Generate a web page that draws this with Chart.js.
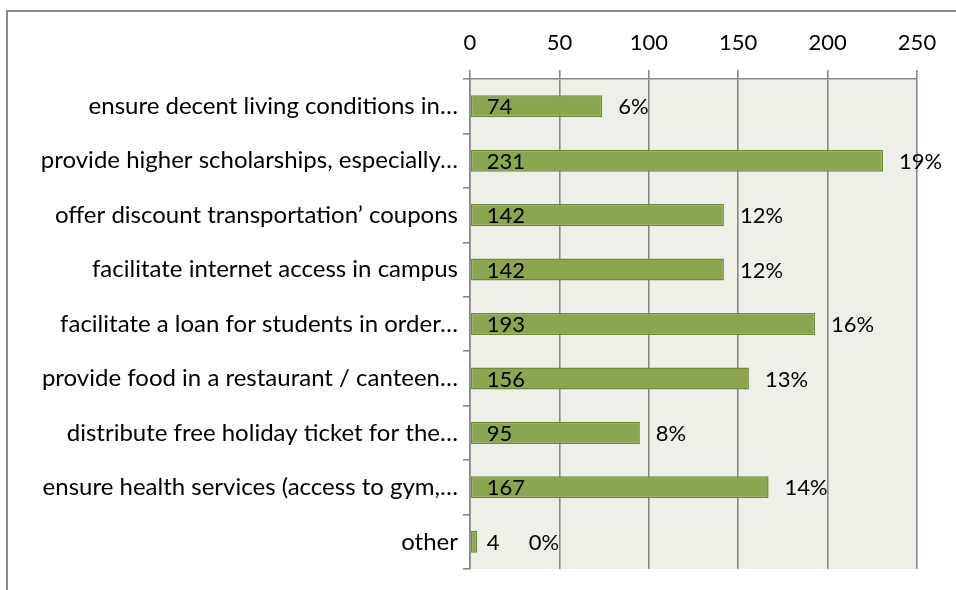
<!DOCTYPE html>
<html>
<head>
<meta charset="utf-8">
<script src="https://cdn.jsdelivr.net/npm/chart.js@4"></script>
<style>
  html, body { margin: 0; padding: 0; background: #fff; overflow: hidden; }
  #wrap { position: relative; width: 956px; height: 590px; }
  #frame { position: absolute; left: 6px; top: 10px; width: 1200px; height: 1200px;
           border-left: 2px solid #8a8a8a; border-top: 2px solid #8a8a8a; }
  canvas { position: absolute; left: 0; top: 0; }
</style>
</head>
<body>
<div id="wrap">
  <div id="frame"></div>
  <canvas id="grafico" width="956" height="590"></canvas>
</div>
<script>
const categorias = [
  'ensure decent living conditions in…',
  'provide higher scholarships, especially…',
  'offer discount transportation’ coupons',
  'facilitate internet access in campus',
  'facilitate a loan for students in order…',
  'provide food in a restaurant / canteen…',
  'distribute free holiday ticket for the…',
  'ensure health services (access to gym,…',
  'other'
];
const valores = [74, 231, 142, 142, 193, 156, 95, 167, 4];
const porcentajes = ['6%', '19%', '12%', '12%', '16%', '13%', '8%', '14%', '0%'];
const ejeX = { min: 0, max: 250, paso: 50 };

const fuente = { family: 'Lato', size: 22 };
const fuenteCat = { family: 'Lato', size: 24 };

// fondo del area de trazado
const fondo = {
  id: 'fondo',
  beforeDraw(chart) {
    const { ctx, chartArea: a } = chart;
    ctx.save();
    ctx.fillStyle = '#eef0e8';
    ctx.fillRect(a.left, a.top, a.right - a.left, a.bottom - a.top);
    ctx.restore();
  }
};

// etiquetas: valor dentro de la barra, porcentaje al final
const etiquetas = {
  id: 'etiquetas',
  afterDatasetsDraw(chart) {
    const { ctx } = chart;
    const meta = chart.getDatasetMeta(0);
    ctx.save();
    ctx.fillStyle = '#000';
    ctx.font = fuente.size + 'px ' + fuente.family;
    ctx.textBaseline = 'middle';
    ctx.textAlign = 'left';
    meta.data.forEach((bar, i) => {
      const inicio = bar.base + 16;
      ctx.fillText(String(valores[i]), inicio, bar.y + 1);
      const xp = Math.max(bar.x + 16, inicio + 42);
      ctx.fillText(porcentajes[i], xp, bar.y + 1);
    });
    ctx.restore();
  }
};

new Chart(document.getElementById('grafico').getContext('2d'), {
  type: 'bar',
  data: {
    labels: categorias,
    datasets: [{
      data: valores,
      backgroundColor: '#8ba64f',
      borderColor: '#6f8a3b',
      borderWidth: 1.5,
      borderSkipped: false,
      barPercentage: 0.405,
      categoryPercentage: 1
    }]
  },
  options: {
    indexAxis: 'y',
    responsive: false,
    animation: false,
    layout: { padding: { left: 0, right: 39, top: 0, bottom: 21 } },
    plugins: {
      legend: { display: false },
      tooltip: { enabled: false },
      title: { display: false }
    },
    scales: {
      x: {
        position: 'top',
        min: ejeX.min,
        max: ejeX.max,
        ticks: { stepSize: ejeX.paso, color: '#000', font: fuente, padding: 14 },
        grid: { color: '#888888', lineWidth: 1.6, tickLength: 9, drawTicks: true },
        border: { display: true, color: '#888888', width: 1.6 },
        afterFit(scale) { scale.height = 79; }
      },
      y: {
        ticks: { color: '#000', font: fuenteCat, padding: 5, autoSkip: false },
        grid: { offset: true, drawOnChartArea: false, color: '#888888', lineWidth: 1.6, tickLength: 7 },
        border: { display: true, color: '#888888', width: 1.6 },
        afterFit(scale) { scale.width = 470; }
      }
    }
  },
  plugins: [fondo, etiquetas]
});
</script>
</body>
</html>
